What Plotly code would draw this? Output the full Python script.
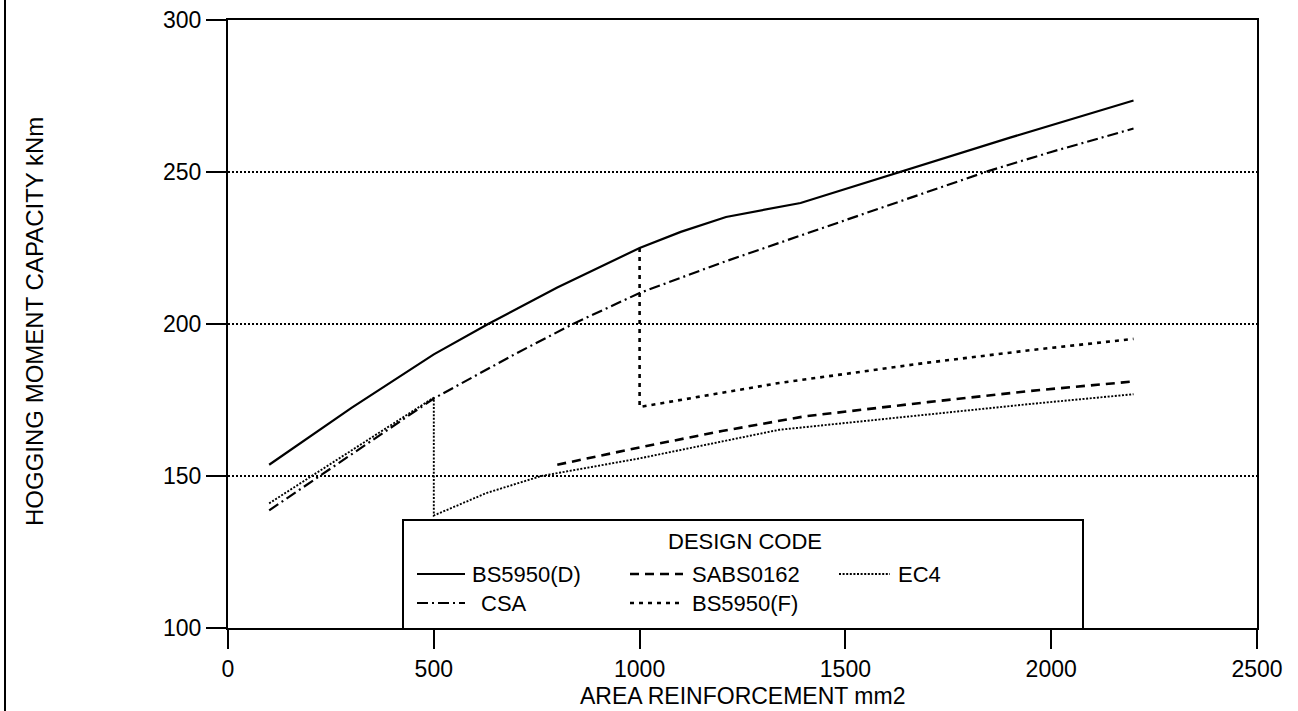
import plotly.graph_objects as go

# ---------------- data ----------------
x_bs5950d = [100, 300, 500, 632, 800, 1000, 1100, 1210, 1391, 1630, 1900, 2200]
y_bs5950d = [153.7, 172.4, 190.0, 200.0, 212.0, 225.0, 230.3, 235.2, 239.8, 250.0, 261.3, 273.5]

x_csa = [100, 300, 500, 700, 838, 1000, 1200, 1400, 1622, 1840, 2000, 2200]
y_csa = [138.7, 157.2, 175.5, 190.3, 200.0, 210.2, 220.2, 229.5, 239.8, 250.0, 256.6, 264.3]

x_sabs0162 = [800, 1000, 1200, 1400, 1700, 1950, 2200]
y_sabs0162 = [153.7, 159.4, 164.8, 169.6, 174.3, 178.0, 181.1]

x_ec4 = [100, 300, 500, 500, 628, 761, 1000, 1339, 1700, 1950, 2200]
y_ec4 = [141.0, 158.4, 175.8, 137.0, 144.4, 150.0, 155.8, 165.2, 170.2, 173.7, 176.9]

x_bs5950f = [1000, 1000, 1339, 1700, 1950, 2200]
y_bs5950f = [225.0, 172.7, 180.6, 187.3, 191.4, 195.1]

x_ticks = [0, 500, 1000, 1500, 2000, 2500]
y_ticks = [100, 150, 200, 250, 300]

legend_title = "DESIGN CODE"
x_title = "AREA REINFORCEMENT mm2"
y_title = "HOGGING MOMENT CAPACITY kNm"

# ---------------- layout geometry (screen pixels) ----------------
W, H = 1298, 711
ML, MT = 228, 20
PR, PB = 1257, 628          # plot right / bottom
MR, MB = W - PR, H - PB
PW, PH = W - ML - MR, H - MT - MB
FONT = "Liberation Sans, Arial, sans-serif"


def px(xp):
    return (xp - ML) / PW


def py(yp):
    return (PB - yp) / PH


styles = {
    "BS5950(D)": dict(dash="solid", width=2.2),
    "SABS0162": dict(dash="9px,6px", width=2.6),
    "EC4": dict(dash="2px,1.6px", width=1.9),
    "CSA": dict(dash="11px,4px,2px,4px", width=2.2),
    "BS5950(F)": dict(dash="4px,5px", width=2.6),
}

series = [
    ("BS5950(D)", x_bs5950d, y_bs5950d),
    ("CSA", x_csa, y_csa),
    ("SABS0162", x_sabs0162, y_sabs0162),
    ("EC4", x_ec4, y_ec4),
    ("BS5950(F)", x_bs5950f, y_bs5950f),
]

fig = go.Figure()
for name, xs, ys in series:
    fig.add_trace(go.Scatter(
        x=xs, y=ys, mode="lines", name=name,
        line=dict(color="black", **styles[name]),
        showlegend=False, hoverinfo="x+y+name",
    ))

shapes = []
annotations = []

# legend box
shapes.append(dict(type="rect", xref="paper", yref="paper",
                   x0=px(403), x1=px(1083), y0=py(629), y1=py(520),
                   line=dict(color="black", width=2), fillcolor="white",
                   layer="above"))
annotations.append(dict(text=legend_title, xref="paper", yref="paper",
                        x=px(745), y=py(541), xanchor="center", yanchor="middle",
                        showarrow=False, font=dict(family=FONT, size=22, color="black")))

legend_items = [
    ("BS5950(D)", 417, 465, 470, 574),
    ("SABS0162", 630, 683, 690, 574),
    ("EC4", 839, 890, 896, 574),
    ("CSA", 417, 465, 479, 603),
    ("BS5950(F)", 630, 683, 690, 603),
]
for name, lx0, lx1, tx, ly in legend_items:
    st = styles[name]
    shapes.append(dict(type="line", xref="paper", yref="paper",
                       x0=px(lx0), x1=px(lx1), y0=py(ly), y1=py(ly),
                       line=dict(color="black", dash=st["dash"], width=st["width"]),
                       layer="above"))
    annotations.append(dict(text=name, xref="paper", yref="paper",
                            x=px(tx), y=py(ly), xanchor="left", yanchor="middle",
                            showarrow=False, font=dict(family=FONT, size=22, color="black")))

# axis titles
annotations.append(dict(text=x_title, xref="paper", yref="paper",
                        x=0.5, y=py(696), xanchor="center", yanchor="middle",
                        showarrow=False, font=dict(family=FONT, size=23, color="black")))
annotations.append(dict(text=y_title, xref="paper", yref="paper",
                        x=px(34), y=py(322), xanchor="center", yanchor="middle",
                        textangle=-90,
                        showarrow=False, font=dict(family=FONT, size=24, color="black")))

# scanned page edge on the left
shapes.append(dict(type="line", xref="paper", yref="paper",
                   x0=px(5), x1=px(5), y0=py(0), y1=py(H),
                   line=dict(color="black", width=2)))

fig.update_layout(
    width=W, height=H,
    margin=dict(l=ML, r=MR, t=MT, b=MB, pad=0),
    paper_bgcolor="white", plot_bgcolor="white",
    font=dict(family=FONT, size=23, color="black"),
    showlegend=False,
    shapes=shapes, annotations=annotations,
)
fig.update_xaxes(
    range=[0, 2500], tickvals=x_ticks, ticktext=[str(v) for v in x_ticks],
    ticks="outside", ticklen=19, tickwidth=2, tickcolor="black",
    showline=True, linewidth=2, linecolor="black", mirror=True,
    showgrid=False, zeroline=False, automargin=False,
    ticklabeloverflow="allow",
    tickfont=dict(family=FONT, size=23, color="black"),
)
fig.update_yaxes(
    range=[100, 300], tickvals=y_ticks, ticktext=[str(v) for v in y_ticks],
    ticks="outside", ticklen=20, tickwidth=2, tickcolor="black",
    showline=True, linewidth=2, linecolor="black", mirror=True,
    showgrid=True, gridcolor="black", gridwidth=1.5, griddash="1.5px,2.5px",
    zeroline=False, automargin=False,
    ticklabeloverflow="allow",
    tickfont=dict(family=FONT, size=23, color="black"),
)

# remove the browser's default page margin so the figure fills the window
fig.write_html("out.html",
               config={"displayModeBar": False},
               post_script="document.body.style.margin='0px';"
                           "document.body.style.overflow='hidden';")
